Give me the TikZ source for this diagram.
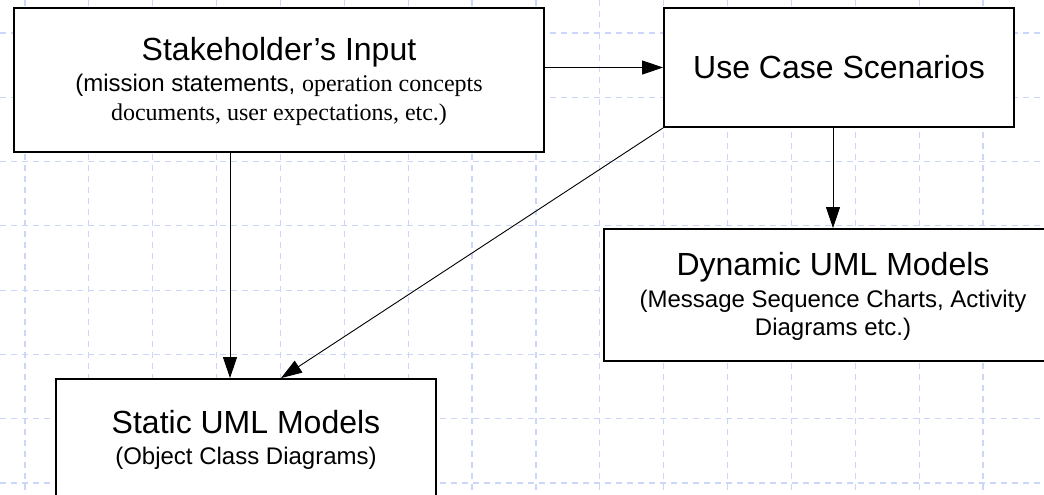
\documentclass[tikz,border=0pt]{standalone}
\usepackage{fontspec}
\setmainfont{Liberation Sans}
\newfontfamily\serifpart{Liberation Serif}
\usetikzlibrary{arrows.meta}
\definecolor{gridblue}{RGB}{204,214,250}
\begin{document}
\begin{tikzpicture}[x=1pt,y=-1pt,
  gridline/.style={draw=gridblue, line width=1.2pt, dash pattern=on 6pt off 5pt},
  box/.style={draw=black, line width=1.8pt, fill=white, rectangle, inner sep=0pt},
  conn/.style={draw=black, line width=0.9pt, -{Triangle[length=21pt,width=14pt]}},
  title/.style={anchor=base, font=\fontsize{32}{38}\selectfont, inner sep=0pt},
  sub/.style={anchor=base, font=\fontsize{24}{28}\selectfont, inner sep=0pt}]
\useasboundingbox (0,0) rectangle (1044,495);
\clip (0,0) rectangle (1044,495);
\fill[white] (0,0) rectangle (1044,495);

% background grid
\foreach \i in {0,...,16}
  \draw[gridline] ({25+63.87*\i},0) -- ({25+63.87*\i},495);
\foreach \j in {0,...,7}
  \draw[gridline] (0,{33+64.29*\j}) -- (1044,{33+64.29*\j});

% boxes
\node[box, minimum width=530pt, minimum height=144pt] (stake) at (279,80) {};
\node[box, minimum width=350pt, minimum height=119pt] (use) at (839,67.5) {};
\node[box, minimum width=458pt, minimum height=132pt] (dyn) at (833,295) {};
\node[box, minimum width=380pt, minimum height=122pt] (static) at (246,440) {};

% box texts
\node[title] (stakeT) at (279,60) {Stakeholder’s Input};
\node[sub] (stakeA) at (279,92) {(mission statements, {\serifpart operation concepts}};
\node[sub] (stakeB) at (279,120) {\serifpart documents, user expectations, etc.)};
\node[title] (useT) at (839,78) {Use Case Scenarios};
\node[title] (dynT) at (833,275) {Dynamic UML Models};
\node[sub] (dynA) at (833,307) {(Message Sequence Charts, Activity};
\node[sub] (dynB) at (833,335) {Diagrams etc.)};
\node[title] (staticT) at (246,433) {Static UML Models};
\node[sub] (staticA) at (246,464) {(Object Class Diagrams)};

% connectors
\draw[conn] (use.west -| stake.east) -- (use.west);
\draw[conn] ([xshift=-49pt]stake.south) -- ([xshift=-49pt]stake.south |- static.north);
\draw[conn] (use.south -| dyn.north) -- (dyn.north);
\draw[conn] (use.south west) -- ([xshift=35pt]static.north);
\end{tikzpicture}
\end{document}
